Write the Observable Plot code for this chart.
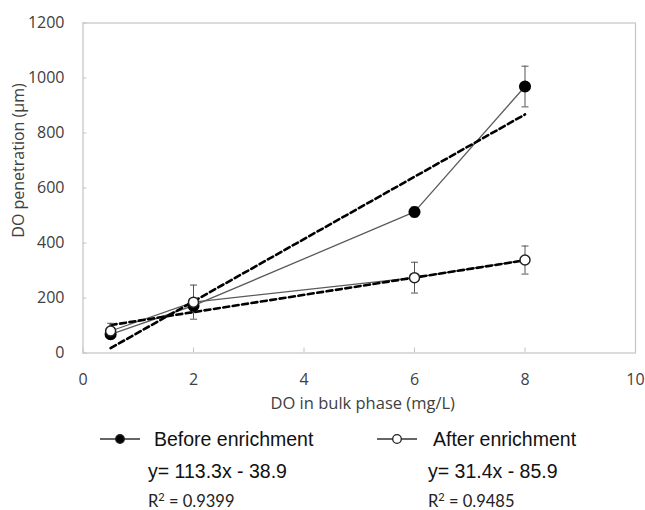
<!DOCTYPE html>
<html>
<head>
<meta charset="utf-8">
<script src="https://cdn.jsdelivr.net/npm/d3@7"></script>
<script src="https://cdn.jsdelivr.net/npm/@observablehq/plot@0.6"></script>
<style>
  body { margin: 0; background: #fff; }
  #wrap { position: relative; width: 645px; height: 510px; }
  #legend { position: absolute; left: 0; top: 420px; }
</style>
</head>
<body>
<div id="wrap"></div>
<script>
// ---- data ----
const doBulk = [0.5, 2, 6, 8];
const beforeY = [68, 172, 513, 969];
const beforeErr = [15, 18, 18, 74];
const afterY = [80, 185, 274, 338];
const afterErr = [28, 62, 56, 51];
const trendX = [0.5, 8];
const beforeFit = [113.3, -38.9];   // slope, intercept
const afterFit = [31.4, 85.9];      // slope, intercept as drawn
const xTicks = [0, 2, 4, 6, 8, 10];
const yTicks = [0, 200, 400, 600, 800, 1000, 1200];
const seriesNames = ["Before enrichment", "After enrichment"];
const eqLabels = ["y= 113.3x - 38.9", "y= 31.4x - 85.9"];
const r2Labels = ["0.9399", "0.9485"];

const before = doBulk.map((x, i) => ({x, y: beforeY[i], e: beforeErr[i]}));
const after = doBulk.map((x, i) => ({x, y: afterY[i], e: afterErr[i]}));
const trendB = trendX.map(x => ({x, y: beforeFit[0] * x + beforeFit[1]}));
const trendA = trendX.map(x => ({x, y: afterFit[0] * x + afterFit[1]}));

const cap = {draw(ctx, size) { const w = 3.5; ctx.moveTo(-w, 0); ctx.lineTo(w, 0); }};

const lineCol = "#5a5a5a";
const errCol = "#555";
const uiFont = "'Open Sans', Lato, sans-serif";

function errMarks(data) {
  return [
    Plot.ruleX(data, {x: "x", y1: d => d.y - d.e, y2: d => d.y + d.e, stroke: errCol, strokeWidth: 1}),
    Plot.dot(data, {x: "x", y: d => d.y - d.e, symbol: cap, r: 4, stroke: errCol, strokeWidth: 1, fill: "none"}),
    Plot.dot(data, {x: "x", y: d => d.y + d.e, symbol: cap, r: 4, stroke: errCol, strokeWidth: 1, fill: "none"})
  ];
}

const chart = Plot.plot({
  width: 645,
  height: 430,
  marginTop: 22.5,
  marginBottom: 77.5,
  marginLeft: 82.5,
  marginRight: 10,
  style: {fontFamily: uiFont, fontSize: "16px", color: "#404040", background: "#fff"},
  x: {domain: [0, 10]},
  y: {domain: [0, 1200]},
  marks: [
    Plot.frame({stroke: "#c4c4c4", strokeWidth: 1.2}),
    Plot.axisX({ticks: xTicks, tickSize: -5, tickPadding: 25.5, label: null, stroke: "#c4c4c4", fontSize: 16, tickFormat: d => String(d)}),
    Plot.axisY({ticks: yTicks, tickSize: -4, tickPadding: 22.5, label: null, stroke: "#c4c4c4", fontSize: 16, tickFormat: d => String(d)}),
    Plot.text(["DO in bulk phase (mg/L)"], {frameAnchor: "bottom", textAnchor: "middle", text: d => d, dx: 3.5, dy: 56, fontSize: 16.5, fill: "#404040"}),
    Plot.text(["DO penetration (\u00b5m)"], {frameAnchor: "left", textAnchor: "middle", text: d => d, dx: -64, dy: -27.5, rotate: -90, fontSize: 16, fill: "#404040"}),
    Plot.line(before, {x: "x", y: "y", stroke: lineCol, strokeWidth: 1.3}),
    Plot.line(after, {x: "x", y: "y", stroke: lineCol, strokeWidth: 1.3}),
    Plot.line(trendB, {x: "x", y: "y", stroke: "#000", strokeWidth: 2.6, strokeDasharray: "6,3.5"}),
    Plot.line(trendA, {x: "x", y: "y", stroke: "#000", strokeWidth: 2.6, strokeDasharray: "6,3.5"}),
    ...errMarks(before),
    ...errMarks(after),
    Plot.dot(before, {x: "x", y: "y", r: 5.3, fill: "#000", stroke: "#000"}),
    Plot.dot(after, {x: "x", y: "y", r: 5, fill: "#fff", stroke: "#222", strokeWidth: 1.5})
  ]
});
const wrap = document.getElementById("wrap");
wrap.appendChild(chart);

// ---- legend & equations below the chart ----
const leg = d3.create("svg").attr("id", "legend").attr("width", 645).attr("height", 90)
  .attr("xmlns", "http://www.w3.org/2000/svg");
const items = [
  {sx: 100, tx: 154, ex: 148, fill: "#000"},
  {sx: 377, tx: 433, ex: 428, fill: "#fff"}
];
items.forEach((it, i) => {
  const g = leg.append("g");
  g.append("line").attr("x1", it.sx).attr("x2", it.sx + 40).attr("y1", 19).attr("y2", 19)
    .attr("stroke", "#333").attr("stroke-width", 1.6);
  g.append("circle").attr("cx", it.sx + 20).attr("cy", 19).attr("r", 4.3)
    .attr("fill", it.fill).attr("stroke", "#222").attr("stroke-width", 1.3);
  g.append("text").attr("x", it.tx).attr("y", 26).text(seriesNames[i])
    .attr("font-family", "'Liberation Sans', Arial, sans-serif").attr("font-size", 19.5).attr("fill", "#111");
  g.append("text").attr("x", it.ex).attr("y", 58).text(eqLabels[i])
    .attr("font-family", "'Liberation Sans', Arial, sans-serif").attr("font-size", 19.5).attr("fill", "#111");
  const t = g.append("text").attr("x", it.ex).attr("y", 87)
    .attr("font-family", "Lato, 'Open Sans', sans-serif").attr("font-size", 16.5).attr("fill", "#222");
  t.append("tspan").text("R");
  t.append("tspan").text("2").attr("font-size", 11).attr("dy", -6);
  t.append("tspan").text(" = " + r2Labels[i]).attr("dy", 6);
});
wrap.appendChild(leg.node());
</script>
</body>
</html>
